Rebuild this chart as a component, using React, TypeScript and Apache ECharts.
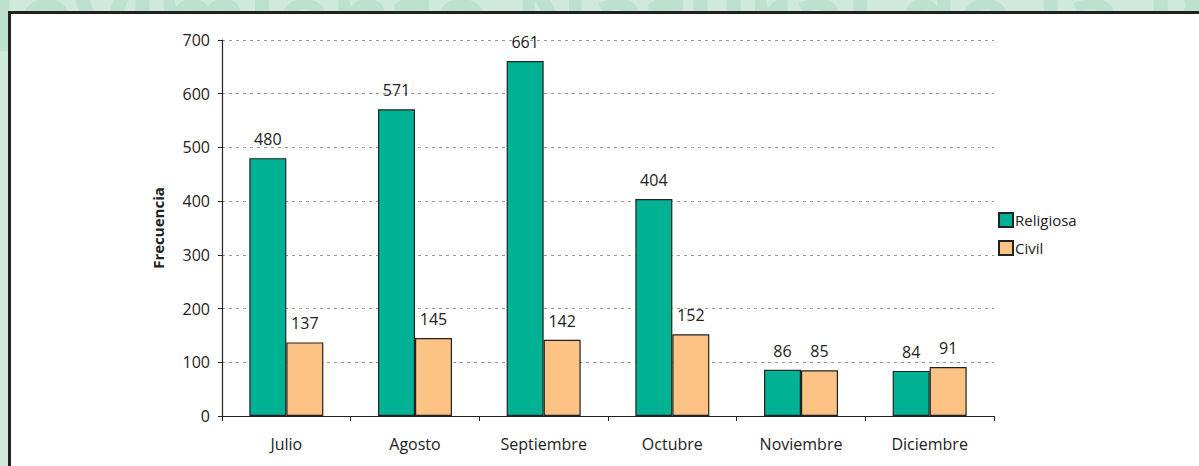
import React, { useEffect, useRef } from "react";
import * as echarts from "echarts";

const categories = ["Julio", "Agosto", "Septiembre", "Octubre", "Noviembre", "Diciembre"];
const religiosa = [480, 571, 661, 404, 86, 84];
const civil = [137, 145, 142, 152, 85, 91];
const yTicks = { min: 0, max: 700, interval: 100 };
const watermark = "Movimiento Natural de la Población";

const FONT = "'Open Sans', sans-serif";

export default function App() {
  const ref = useRef<HTMLDivElement>(null);
  useEffect(() => {
    document.body.style.margin = "0";
    const chart = echarts.init(ref.current!, null, { renderer: "svg" });
    const labelStyle = {
      show: true,
      position: "top" as const,
      distance: 11,
      fontSize: 16,
      color: "#222",
      fontFamily: FONT,
    };
    chart.setOption({
      animation: false,
      backgroundColor: "#cfe9dc",
      textStyle: { fontFamily: FONT },
      graphic: [
        {
          type: "text",
          x: -70,
          y: 15,
          z: -20,
          silent: true,
          style: {
            text: watermark,
            fontSize: 93,
            fontWeight: "bold",
            fontFamily: FONT,
            fill: "#bde1ce",
            verticalAlign: "middle",
          },
        },
        {
          type: "rect",
          z: -10,
          silent: true,
          shape: { x: 9.5, y: 12.5, width: 1300, height: 600 },
          style: { fill: "#ffffff", stroke: "#222222", lineWidth: 3 },
        },
      ],
      grid: { left: 222, right: 205, top: 40, bottom: 50 },
      legend: {
        orient: "vertical",
        left: 993,
        top: 207,
        itemWidth: 14,
        itemHeight: 14,
        itemGap: 12,
        icon: "rect",
        textStyle: { fontSize: 15, color: "#222", fontFamily: FONT, padding: [0, 0, 0, -3] },
        data: ["Religiosa", "Civil"],
      },
      xAxis: {
        type: "category",
        data: categories,
        axisLine: { lineStyle: { color: "#222", width: 1.2 } },
        axisTick: { show: true, length: 5, lineStyle: { color: "#222" } },
        axisLabel: { fontSize: 16, color: "#222", margin: 20, fontFamily: FONT },
      },
      yAxis: {
        type: "value",
        min: yTicks.min,
        max: yTicks.max,
        interval: yTicks.interval,
        name: "Frecuencia",
        nameLocation: "middle",
        nameGap: 57,
        nameTextStyle: { fontSize: 15, fontWeight: "bold", color: "#222", fontFamily: FONT },
        axisLine: { show: true, lineStyle: { color: "#222", width: 1.2 } },
        axisTick: { show: true, length: 4, lineStyle: { color: "#222" } },
        axisLabel: { fontSize: 16, color: "#222", margin: 12, fontFamily: FONT },
        splitLine: { lineStyle: { color: "#999", type: [3, 4], width: 1 } },
      },
      series: [
        {
          name: "Religiosa",
          type: "bar",
          data: religiosa,
          barWidth: 37,
          barGap: "0%",
          itemStyle: { color: "#00b294", borderColor: "#222", borderWidth: 1.2 },
          label: labelStyle,
        },
        {
          name: "Civil",
          type: "bar",
          data: civil,
          barWidth: 37,
          barGap: "0%",
          itemStyle: { color: "#fcc384", borderColor: "#222", borderWidth: 1.2 },
          label: labelStyle,
        },
      ],
    });
    return () => chart.dispose();
  }, []);
  return <div ref={ref} style={{ width: 1199, height: 466 }} />;
}
